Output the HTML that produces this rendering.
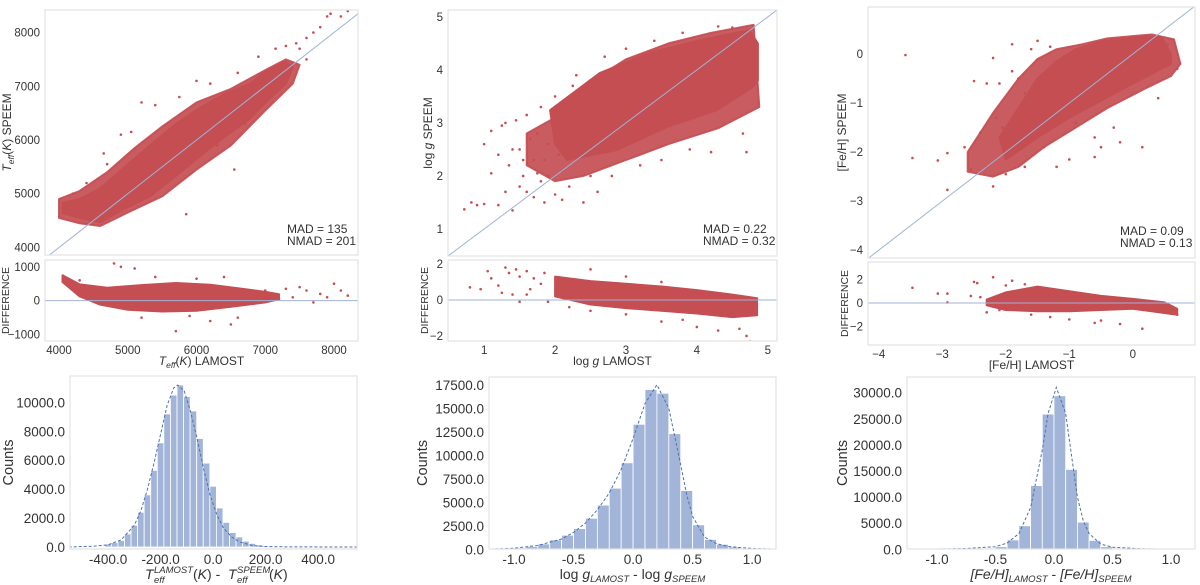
<!DOCTYPE html>
<html><head><meta charset="utf-8"><style>
html,body{margin:0;padding:0;background:#fff;}
svg{display:block;font-family:"Liberation Sans",sans-serif;}
</style></head><body>
<svg id="fig" width="1200" height="585" viewBox="0 0 1200 585" xmlns="http://www.w3.org/2000/svg"></svg>
<script>
// ---------- DATA ----------
const teffUpper = [[4050,4830],[4300,4900],[4600,5100],[5000,5550],[5323,5900],[5700,6300],[6050,6600],[6400,6850],[6778,7050],[7025,7300],[7300,7450],[7400,7350]];
const teffLower = [[7300,7050],[7025,6720],[6778,6400],[6400,6050],[6050,5700],[5700,5330],[5323,4950],[5000,4750],[4600,4470],[4300,4550],[4050,4640]];
const teffHaloUpper = [[4000,4900],[4300,5050],[4700,5400],[5100,5850],[5500,6250],[6000,6700],[6500,6950],[7000,7300],[7300,7500],[7500,7400]];
const teffHaloLower = [[7400,7050],[7000,6550],[6500,5900],[6000,5450],[5500,4950],[5000,4650],[4600,4400],[4300,4450],[4000,4550]];
const teffOutliers = [[4650,5750],[4700,5550],[4900,6100],[5050,6150],[5200,6700],[5400,6650],[5750,6800],[6000,7100],[6200,7050],[6600,7250],[6900,7550],[7150,7700],[7300,7750],[7450,7800],[7500,7700],[7600,7900],[7700,8000],[7800,8100],[7900,8300],[7950,8350],[8100,8300],[8200,8400],[7600,7500],[7400,7400],[6950,6650],[6700,6300],[5850,4620],[6550,5450],[4400,5200],[4200,5000],[4150,4700],[4450,4500],[7200,7000],[7100,6900],[5600,5250],[6300,5900]];
const teffDiffUpper = [[4050,750],[4300,480],[4700,380],[5200,460],[5700,520],[6200,470],[6700,340],[7000,260],[7200,190]];
const teffDiffLower = [[7200,40],[7000,-50],[6500,-180],[6000,-300],[5500,-320],[5000,-270],[4600,-120],[4300,130],[4050,550]];
const teffDiffOutliers = [[4900,1000],[4800,1100],[5100,950],[5400,700],[6000,650],[6500,-700],[6600,-500],[5700,-900],[6200,-600],[7000,300],[7300,350],[7500,400],[7600,300],[7800,200],[7900,100],[8000,500],[8100,300],[8200,150],[7700,-50],[7400,100],[7200,50],[4300,600],[5200,-500],[5900,-450],[6400,700]];

const loggUpper = [[2.0,2.6],[1.93,3.24],[2.63,3.94],[3.33,4.32],[4.04,4.56],[4.74,4.75],[4.86,4.5]];
const loggLower = [[4.86,3.8],[4.79,3.68],[4.28,3.24],[3.57,2.92],[2.87,2.49],[2.17,2.3]];
const loggHaloUpper = [[1.6,2.8],[2.0,3.1],[2.4,3.7],[3.0,4.2],[3.6,4.5],[4.2,4.7],[4.8,4.85]];
const loggHaloLower = [[4.88,3.3],[4.3,2.9],[3.6,2.6],[3.0,2.3],[2.4,2.0],[2.0,1.9],[1.6,2.2]];
const loggOutliers = [[0.72,1.37],[0.82,1.5],[0.9,1.45],[1.0,1.47],[1.0,2.6],[1.1,2.05],[1.1,2.85],[1.2,1.45],[1.25,2.95],[1.3,1.7],[1.35,2.2],[1.4,1.35],[1.45,3.05],[1.5,1.8],[1.5,2.5],[1.55,2.0],[1.6,1.7],[1.6,3.15],[1.7,1.6],[1.7,2.3],[1.75,2.8],[1.8,1.9],[1.8,3.3],[1.85,1.5],[1.9,2.0],[1.9,2.6],[1.95,3.0],[2.0,1.65],[2.0,3.5],[2.1,1.55],[2.1,2.1],[2.2,1.8],[2.25,3.7],[2.3,3.9],[2.4,1.5],[2.5,2.0],[2.6,1.7],[2.7,4.25],[2.8,2.0],[3.0,4.4],[3.2,2.2],[3.4,4.55],[3.5,2.3],[3.9,2.5],[4.2,2.45],[4.5,4.8],[4.65,2.8],[4.7,2.45],[4.3,4.82],[3.8,4.7],[1.2,2.4],[1.4,2.5],[1.65,2.7],[1.3,3.0],[1.55,2.3],[1.85,2.3],[2.05,2.4],[1.75,2.05]];
const loggDiffUpper = [[2.0,1.3],[2.5,1.05],[3.0,0.9],[3.5,0.75],[4.0,0.55],[4.5,0.3],[4.85,0.1]];
const loggDiffLower = [[4.85,-0.85],[4.5,-0.95],[4.0,-0.75],[3.5,-0.6],[3.0,-0.45],[2.5,-0.25],[2.0,0.2]];
const loggDiffOutliers = [[0.8,0.7],[0.95,0.6],[1.05,1.6],[1.1,1.2],[1.2,0.8],[1.3,1.8],[1.35,1.5],[1.45,1.7],[1.5,1.3],[1.6,1.6],[1.65,0.6],[1.7,1.2],[1.8,0.9],[1.85,1.5],[1.4,0.3],[1.5,-0.1],[1.6,0.3],[1.9,-0.1],[2.2,-0.4],[2.5,-0.6],[3.0,-0.8],[3.5,-1.2],[3.8,-1.1],[4.0,-1.5],[4.3,-1.7],[4.6,-1.6],[4.7,-2.0],[4.75,-2.3],[2.5,1.7],[3.0,1.3],[3.5,1.0],[1.25,0.4]];

const fehUpper = [[-2.1,-1.7],[-1.8,-1.1],[-1.5,-0.5],[-1.2,-0.15],[-0.9,0.1],[-0.5,0.25],[0,0.35],[0.45,0.35],[0.6,0.0]];
const fehLower = [[0.6,-0.2],[0.3,-0.4],[0,-0.6],[-0.5,-0.95],[-1.0,-1.3],[-1.5,-1.7],[-2.0,-2.15]];
const fehHaloUpper = [[-2.6,-2.0],[-2.2,-1.2],[-1.8,-0.5],[-1.5,-0.1],[-1.2,0.1],[-0.8,0.2],[-0.4,0.32],[0.3,0.4],[0.65,0.3],[0.75,-0.2]];
const fehHaloLower = [[0.6,-0.45],[0.2,-0.7],[-0.4,-1.1],[-0.9,-1.5],[-1.4,-1.9],[-1.8,-2.3],[-2.2,-2.5],[-2.6,-2.4]];
const fehOutliers = [[-3.58,-0.02],[-3.47,-2.12],[-3.07,-2.17],[-2.92,-2.02],[-2.92,-2.77],[-2.55,-2.35],[-2.4,-1.6],[-2.5,-0.55],[-2.3,-0.6],[-2.2,-0.08],[-2.1,-0.6],[-1.9,-0.35],[-1.8,-0.5],[-1.9,0.2],[-1.6,0.1],[-1.5,0.27],[-1.3,0.15],[-1.2,-2.3],[-1.0,-2.15],[-0.9,-1.4],[-0.6,-1.7],[-0.6,-2.1],[-0.5,-1.9],[-0.2,-1.8],[0.15,-1.9],[-0.3,-1.5],[0.4,-0.9],[0.7,-0.3],[0.55,0.2],[-2.0,-2.45],[-2.2,-2.7],[-1.7,-2.3],[-1.4,-1.9],[-2.3,-2.3],[-2.65,-1.9],[-2.15,-1.3],[-1.7,-0.8],[-2.05,-1.5]];
const fehDiffUpper = [[-2.3,0.3],[-2.0,0.9],[-1.5,1.4],[-1.0,1.0],[-0.5,0.6],[0,0.35],[0.5,0.05],[0.7,-0.5]];
const fehDiffLower = [[0.7,-1.0],[0.3,-0.7],[0,-0.5],[-0.5,-0.6],[-1.0,-0.7],[-1.5,-0.7],[-2.0,-0.6],[-2.3,-0.2]];
const fehDiffOutliers = [[-3.57,3.6],[-3.47,1.3],[-3.07,0.8],[-2.92,0.8],[-2.92,0.05],[-2.55,0.6],[-2.5,1.8],[-2.45,1.7],[-2.2,2.2],[-2.0,1.5],[-1.9,1.9],[-1.7,1.6],[-1.3,-1.2],[-1.0,-1.4],[-0.6,-1.7],[-0.5,-1.5],[-0.2,-1.8],[0.15,-2.2],[0.7,-1.0],[-2.1,-0.6],[-2.3,-0.8],[-2.4,0.5],[-1.6,-1.0]];

const teffTicks = [4000,5000,6000,7000,8000];
const teffDiffTicks = [-1000,0,1000];
const loggTicks = [1,2,3,4,5];
const loggDiffTicks = [-2,0,2];
const fehYTicks = [-4,-3,-2,-1,0];
const fehXTicks = [-4,-3,-2,-1,0];
const fehDiffTicks = [-2,0,2];

const h1Edges = [-412.5,-387.5,-362.5,-337.5,-312.5,-287.5,-262.5,-237.5,-212.5,-187.5,-162.5,-137.5,-112.5,-87.5,-62.5,-37.5,-12.5,12.5,37.5,62.5,87.5,112.5,137.5,162.5,187.5,212.5];
const h1Counts = [200,300,450,900,1500,2400,3600,5300,7200,9200,10500,11200,10400,9400,7500,5800,4200,2700,1700,1000,700,400,250,150,80];
const h1KdeX = [-550,-450,-400,-350,-300,-275,-250,-225,-200,-175,-150,-135,-110,-85,-60,-35,-10,15,40,70,100,150,200,300,550];
const h1KdeY = [0,60,150,500,1500,2500,4000,5800,7800,9800,11000,11200,10800,9300,7400,5300,3500,2200,1300,700,350,100,30,5,0];
const h1Ticks = [-400,-200,0,200,400];
const h1YTicks = [0,2000,4000,6000,8000,10000];

const h2Edges = [-1.1,-1.0,-0.9,-0.8,-0.7,-0.6,-0.5,-0.4,-0.3,-0.2,-0.1,0.0,0.1,0.2,0.3,0.4,0.5,0.6,0.7,0.8,0.9,1.0];
const h2Counts = [80,150,300,570,1000,1500,2200,3300,4700,6500,9200,13300,17000,16600,12300,6250,2600,1050,530,250,100];
const h2KdeX = [-1.2,-1.0,-0.8,-0.6,-0.5,-0.4,-0.3,-0.2,-0.1,0.0,0.1,0.2,0.3,0.4,0.45,0.5,0.6,0.7,0.8,1.0,1.2];
const h2KdeY = [20,120,400,1100,1800,2800,4200,6000,8500,11800,15500,17500,15000,9000,5800,3500,1300,600,300,80,20];
const h2Ticks = [-1.0,-0.5,0.0,0.5,1.0];
const h2YTicks = [0,2500,5000,7500,10000,12500,15000,17500];

const h3Edges = [-0.6,-0.5,-0.4,-0.3,-0.2,-0.1,0.0,0.1,0.2,0.3,0.4,0.5,0.6];
const h3Counts = [200,500,1800,4500,12200,25900,29400,15300,5200,1700,500,200];
const h3KdeX = [-1.25,-1.0,-0.75,-0.5,-0.4,-0.3,-0.2,-0.1,-0.05,0.02,0.1,0.15,0.2,0.25,0.3,0.4,0.5,0.75,1.0,1.2];
const h3KdeY = [10,50,150,500,1200,3000,8000,19000,26000,31000,26000,18000,10000,5500,3000,1000,400,100,30,10];
const h3Ticks = [-1.0,-0.5,0.0,0.5,1.0];
const h3YTicks = [0,5000,10000,15000,20000,25000,30000];

// ---------- DRAWING ----------
const NS = "http://www.w3.org/2000/svg";
const svg = document.getElementById('fig');
const RED = "#c44e52", BLUE = "#4c72b0";
let clipId = 0;
function el(tag, attrs, parent){ const e=document.createElementNS(NS,tag); for(const k in attrs) e.setAttribute(k,attrs[k]); (parent||svg).appendChild(e); return e; }
function scale(d0,d1,p0,p1){ return v => p0 + (v-d0)/(d1-d0)*(p1-p0); }
function frame(g, f, name){
  const r = el('rect',{x:f.x0,y:f.y0,width:f.x1-f.x0,height:f.y1-f.y0,fill:'none',stroke:'#e3e3e3','stroke-width':1.2},g);
  
  
}
function clipFor(f){
  const id='c'+(clipId++);
  const cp = el('clipPath',{id:id});
  el('rect',{x:f.x0,y:f.y0,width:f.x1-f.x0,height:f.y1-f.y0},cp);
  return 'url(#'+id+')';
}
function txt(g, x, y, s, opts, name){
  const t = el('text',Object.assign({x:x,y:y,fill:'#333','font-size':12},opts||{}),g);
  t.textContent = s;
  
  
  return t;
}
function polyPts(arr, sx, sy){ return arr.map(p=>sx(p[0]).toFixed(1)+','+sy(p[1]).toFixed(1)).join(' '); }
function drawCloud(g, upper, lower, sx, sy, opacity, name){
  const p = el('polygon',{points:polyPts(upper.concat(lower),sx,sy),fill:RED,stroke:RED,'stroke-width':2,'stroke-linejoin':'round','fill-opacity':opacity,'stroke-opacity':opacity},g);
  
  
}
function drawPoints(g, pts, sx, sy, name){
  pts.forEach(p=>{
    const c = el('circle',{cx:sx(p[0]),cy:sy(p[1]),r:1.3,fill:RED},g);
    
    
  });
}

function scatterPanel(cfg){
  const g = el('g',{});
  
  
  const f = cfg.top, d = cfg.dom;
  const sx = scale(d.xmin,d.xmax,f.x0,f.x1), sy = scale(d.ymin,d.ymax,f.y1,f.y0);
  const cg = el('g',{'clip-path':clipFor(f)},g);
  drawCloud(cg, cfg.haloU, cfg.haloL, sx, sy, 0.92, 'scatter-halo');
  drawCloud(cg, cfg.upper, cfg.lower, sx, sy, 1, 'scatter-dense-cloud');
  drawPoints(cg, cfg.outliers, sx, sy, 'scatter-point');
  const lo = Math.min(d.xmin,d.ymin), hi = Math.max(d.xmax,d.ymax);
  const dl = el('line',{x1:sx(lo),y1:sy(lo),x2:sx(hi),y2:sy(hi),stroke:'#9fb3d9','stroke-width':1},cg);
  
  
  frame(g,f,'scatter-frame');
  cfg.yTicks.forEach(v=>txt(g,f.x0-5,sy(v)+4,String(v).replace('-','\u2212'),{'text-anchor':'end','font-size':11.5},'y-tick-label'));
  txt(g,cfg.statX,cfg.statY,cfg.mad,{'font-size':12},'mad-label');
  txt(g,cfg.statX,cfg.statY+12,cfg.nmad,{'font-size':12},'nmad-label');
  const yl = txt(g,0,0,'',{'font-size':12,'text-anchor':'middle',transform:'translate('+cfg.ylabX+','+((f.y0+f.y1)/2)+') rotate(-90)'},'y-axis-title');
  yl.innerHTML = cfg.ylab;
  const b = cfg.bot, dd = cfg.ddom;
  const by = scale(dd.ymin,dd.ymax,b.y1,b.y0), bx = scale(d.xmin,d.xmax,b.x0,b.x1);
  const bg = el('g',{'clip-path':clipFor(b)},g);
  drawCloud(bg, cfg.dU, cfg.dL, bx, by, 1, 'difference-cloud');
  drawPoints(bg, cfg.dOut, bx, by, 'difference-point');
  const zl = el('line',{x1:b.x0,y1:by(0),x2:b.x1,y2:by(0),stroke:'#9fb3d9','stroke-width':1},bg);
  
  
  frame(g,b,'difference-frame');
  cfg.dTicks.forEach(v=>txt(g,b.x0-5,by(v)+4,String(v).replace('-','\u2212'),{'text-anchor':'end','font-size':11.5},'difference-y-tick-label'));
  cfg.xTicks.forEach(v=>txt(g,bx(v),b.y1+13,String(v).replace('-','\u2212'),{'text-anchor':'middle','font-size':11.5},'x-tick-label'));
  txt(g,0,0,'DIFFERENCE',{'font-size':10.5,'text-anchor':'middle',transform:'translate('+cfg.dlabX+','+((b.y0+b.y1)/2)+') rotate(-90)'},'difference-axis-title');
  const xl = txt(g,(b.x0+b.x1)/2,b.y1+24,'',{'font-size':12,'text-anchor':'middle'},'x-axis-title');
  xl.innerHTML = cfg.xlab;
}

scatterPanel({name:'teff-scatter-panel',top:{x0:45,x1:358,y0:10,y1:255},dom:{xmin:3796,xmax:8349,ymin:3860,ymax:8419},
  upper:teffUpper,lower:teffLower,haloU:teffHaloUpper,haloL:teffHaloLower,outliers:teffOutliers,
  yTicks:teffTicks,xTicks:teffTicks,statX:287,statY:233,mad:'MAD = 135',nmad:'NMAD = 201',ylabX:11,dlabX:9,
  ylab:'<tspan font-style="italic">T</tspan><tspan font-style="italic" font-size="8.5" dy="3">eff</tspan><tspan dy="-3">(</tspan><tspan font-style="italic">K</tspan>)  SPEEM',
  bot:{x0:45,x1:358,y0:260,y1:341},ddom:{ymin:-1190,ymax:1200},dU:teffDiffUpper,dL:teffDiffLower,dOut:teffDiffOutliers,dTicks:teffDiffTicks,
  xlab:'<tspan font-style="italic">T</tspan><tspan font-style="italic" font-size="8.5" dy="3">eff</tspan><tspan dy="-3">(</tspan><tspan font-style="italic">K</tspan>)  LAMOST'});

scatterPanel({name:'logg-scatter-panel',top:{x0:448,x1:777,y0:10,y1:256},dom:{xmin:0.49,xmax:5.13,ymin:0.49,ymax:5.13},
  upper:loggUpper,lower:loggLower,haloU:loggHaloUpper,haloL:loggHaloLower,outliers:loggOutliers,
  yTicks:loggTicks,xTicks:loggTicks,statX:703,statY:233,mad:'MAD = 0.22',nmad:'NMAD = 0.32',ylabX:432,dlabX:428,
  ylab:'log <tspan font-style="italic">g</tspan>  SPEEM',
  bot:{x0:448,x1:777,y0:260,y1:341},ddom:{ymin:-2.28,ymax:2.22},dU:loggDiffUpper,dL:loggDiffLower,dOut:loggDiffOutliers,dTicks:loggDiffTicks,
  xlab:'log <tspan font-style="italic">g</tspan>  LAMOST'});

scatterPanel({name:'feh-scatter-panel',top:{x0:868,x1:1195,y0:7,y1:258},dom:{xmin:-4.17,xmax:0.98,ymin:-4.16,ymax:0.96},
  upper:fehUpper,lower:fehLower,haloU:fehHaloUpper,haloL:fehHaloLower,outliers:fehOutliers,
  yTicks:fehYTicks,xTicks:fehXTicks,statX:1120,statY:235,mad:'MAD = 0.09',nmad:'NMAD = 0.13',ylabX:846,dlabX:848,
  ylab:'[Fe/H]  SPEEM',
  bot:{x0:868,x1:1195,y0:262,y1:345},ddom:{ymin:-3.59,ymax:3.5},dU:fehDiffUpper,dL:fehDiffLower,dOut:fehDiffOutliers,dTicks:fehDiffTicks,
  xlab:'[Fe/H]  LAMOST'});

function histPanel(cfg){
  const g = el('g',{});
  
  
  const f = cfg.f;
  const sx = scale(cfg.xmin,cfg.xmax,f.x0,f.x1), sy = scale(0,cfg.ymax,cfg.base,f.y0);
  const cg = el('g',{'clip-path':clipFor(f)},g);
  cfg.counts.forEach((c,i)=>{
    const x0 = sx(cfg.edges[i]), x1 = sx(cfg.edges[i+1]);
    const r = el('rect',{x:x0,y:sy(c),width:x1-x0,height:cfg.base-sy(c),fill:'#a2b5d8',stroke:'#ffffff','stroke-width':0.8},cg);
    
    
  });
  const pts = cfg.kx.map((x,i)=>sx(x).toFixed(1)+','+sy(cfg.ky[i]).toFixed(1)).join(' ');
  const pl = el('polyline',{points:pts,fill:'none',stroke:BLUE,'stroke-width':1,'stroke-dasharray':'3,2'},cg);
  
  
  frame(g,f,'histogram-frame');
  cfg.yTicks.forEach(v=>txt(g,f.x0-5,sy(v)+5,v.toFixed(1),{'text-anchor':'end','font-size':13.5},'y-tick-label'));
  cfg.xTicks.forEach(v=>txt(g,sx(v),f.y1+15,v.toFixed(1),{'text-anchor':'middle','font-size':13.5},'x-tick-label'));
  txt(g,0,0,'Counts',{'font-size':14.5,'text-anchor':'middle',transform:'translate('+cfg.ylabX+','+((f.y0+f.y1)/2)+') rotate(-90)'},'y-axis-title');
  cfg.xlab(g, f);
}

histPanel({name:'teff-histogram',f:{x0:70,x1:357,y0:376,y1:549},base:547,xmin:-545,xmax:548,ymax:11820,
  edges:h1Edges,counts:h1Counts,kx:h1KdeX,ky:h1KdeY,yTicks:h1YTicks,xTicks:h1Ticks,ylabX:13,
  xlab:function(g,f){
    const y=579, I={'font-style':'italic'};
    txt(g,145,y,'T',Object.assign({'font-size':14},I),'x-axis-title');
    txt(g,154,y-6,'LAMOST',Object.assign({'font-size':9.5},I),'x-axis-title-sup');
    txt(g,154,y+4,'eff',Object.assign({'font-size':9.5},I),'x-axis-title-sub');
    const t = txt(g,193,y,'',{'font-size':14},'x-axis-title');
    t.innerHTML='(<tspan font-style="italic">K</tspan>) -';
    txt(g,228,y,'T',Object.assign({'font-size':14},I),'x-axis-title');
    txt(g,237,y-6,'SPEEM',Object.assign({'font-size':9.5},I),'x-axis-title-sup');
    txt(g,237,y+4,'eff',Object.assign({'font-size':9.5},I),'x-axis-title-sub');
    const t2 = txt(g,269,y,'',{'font-size':14},'x-axis-title');
    t2.innerHTML='(<tspan font-style="italic">K</tspan>)';
  }});

histPanel({name:'logg-histogram',f:{x0:489,x1:776,y0:377,y1:549},base:549.3,xmin:-1.21,xmax:1.2,ymax:18330,
  edges:h2Edges,counts:h2Counts,kx:h2KdeX,ky:h2KdeY,yTicks:h2YTicks,xTicks:h2Ticks,ylabX:427,
  xlab:function(g,f){
    const t = txt(g,(f.x0+f.x1)/2,579,'',{'font-size':14,'text-anchor':'middle'},'x-axis-title');
    t.innerHTML='log <tspan font-style="italic">g</tspan><tspan font-style="italic" font-size="9.5" dy="3">LAMOST</tspan><tspan dy="-3"> - log </tspan><tspan font-style="italic">g</tspan><tspan font-style="italic" font-size="9.5" dy="3">SPEEM</tspan>';
  }});

histPanel({name:'feh-histogram',f:{x0:907,x1:1195,y0:377,y1:549},base:549.3,xmin:-1.256,xmax:1.205,ymax:33000,
  edges:h3Edges,counts:h3Counts,kx:h3KdeX,ky:h3KdeY,yTicks:h3YTicks,xTicks:h3Ticks,ylabX:847,
  xlab:function(g,f){
    const t = txt(g,(f.x0+f.x1)/2,579,'',{'font-size':14,'text-anchor':'middle'},'x-axis-title');
    t.innerHTML='<tspan font-style="italic">[Fe/H]</tspan><tspan font-style="italic" font-size="9.5" dy="3">LAMOST</tspan><tspan dy="-3"> - </tspan><tspan font-style="italic">[Fe/H]</tspan><tspan font-style="italic" font-size="9.5" dy="3">SPEEM</tspan>';
  }});
</script>
</body></html>
